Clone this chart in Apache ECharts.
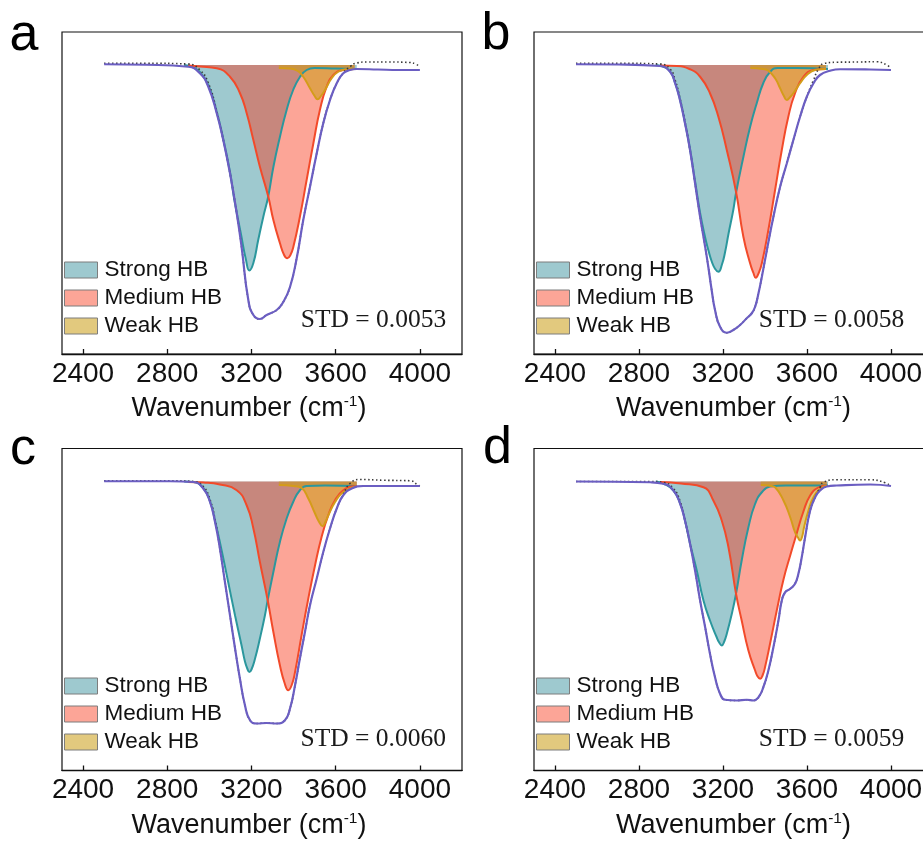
<!DOCTYPE html>
<html>
<head>
<meta charset="utf-8">
<script src="https://cdn.jsdelivr.net/npm/echarts@6/dist/echarts.min.js"></script>
<style>html,body{margin:0;padding:0;background:#fff}#c{width:923px;height:843px}</style>
</head>
<body>
<div id="c"></div>
<script>
// ---------- DATA (wavenumber in cm-1, intensity in arbitrary units) ----------
const xTicks = [2400, 2800, 3200, 3600, 4000];
const panelLabels = ['a', 'b', 'c', 'd'];
const stdLabels = ['STD = 0.0053', 'STD = 0.0058', 'STD = 0.0060', 'STD = 0.0059'];
const componentNames = ['Strong HB', 'Medium HB', 'Weak HB'];

// Panel a
const fitX_a = [2500,2700,2900,2955,2995,3035,3066,3098,3130,3153,3185,3209,3240,3272,3320,3351,3383,3415,3446,3478,3510,3541,3573,3605,3636,3668,3700,3800,3900,4000];
const fitY_a = [0.003,0.001,-0.007,-0.033,-0.087,-0.193,-0.300,-0.433,-0.593,-0.727,-0.940,-1.000,-1.016,-1.000,-0.980,-0.948,-0.888,-0.772,-0.620,-0.487,-0.353,-0.233,-0.140,-0.073,-0.033,-0.020,-0.016,-0.018,-0.020,-0.020];
const expX_a = [2500,2700,2900,2955,2995,3035,3066,3098,3130,3153,3185,3209,3240,3272,3320,3351,3383,3415,3446,3478,3510,3541,3573,3605,3636,3668,3700,3750,3850,3950,3980,4000];
const expY_a = [0.007,0.007,0.004,-0.020,-0.072,-0.184,-0.300,-0.433,-0.593,-0.727,-0.940,-1.000,-1.016,-1.000,-0.980,-0.948,-0.888,-0.772,-0.620,-0.487,-0.353,-0.233,-0.140,-0.073,-0.032,-0.007,0.008,0.012,0.012,0.010,0.004,-0.008];
const strong_a = [[2880,0],[2920,-0.008],[2955,-0.028],[2995,-0.080],[3035,-0.188],[3066,-0.296],[3098,-0.428],[3118,-0.536],[3149,-0.672],[3174,-0.780],[3190,-0.822],[3209,-0.792],[3232,-0.700],[3256,-0.608],[3280,-0.524],[3304,-0.408],[3335,-0.288],[3367,-0.180],[3398,-0.100],[3430,-0.048],[3462,-0.020],[3500,-0.012],[3600,-0.014],[3700,-0.016]];
const medium_a = [[2900,-0.002],[2955,-0.006],[3035,-0.013],[3098,-0.047],[3145,-0.112],[3177,-0.192],[3209,-0.300],[3240,-0.407],[3280,-0.527],[3304,-0.620],[3335,-0.712],[3355,-0.760],[3370,-0.773],[3385,-0.760],[3399,-0.727],[3430,-0.607],[3462,-0.460],[3494,-0.313],[3525,-0.180],[3557,-0.087],[3589,-0.040],[3636,-0.020],[3690,-0.016]];
const weak_a = [[3330,-0.012],[3380,-0.014],[3420,-0.024],[3446,-0.047],[3478,-0.093],[3500,-0.124],[3514,-0.137],[3530,-0.124],[3549,-0.100],[3581,-0.053],[3612,-0.027],[3652,-0.017],[3690,-0.016]];

// Panel b
const fitX_b = [2500,2700,2900,2948,2972,2995,3019,3043,3067,3091,3115,3130,3146,3162,3186,3218,3249,3281,3313,3337,3353,3369,3385,3409,3440,3472,3504,3535,3567,3599,3631,3662,3710,3758,3900,4000];
const fitY_b = [0.003,0.002,-0.004,-0.027,-0.073,-0.140,-0.233,-0.340,-0.473,-0.607,-0.727,-0.807,-0.900,-0.980,-1.047,-1.071,-1.060,-1.040,-1.013,-0.993,-0.967,-0.913,-0.847,-0.740,-0.607,-0.487,-0.393,-0.300,-0.207,-0.127,-0.073,-0.040,-0.023,-0.017,-0.018,-0.020];
const expX_b = [2500,2700,2900,2948,2972,2995,3019,3043,3067,3091,3115,3130,3146,3162,3186,3218,3249,3281,3313,3337,3353,3369,3385,3409,3440,3472,3504,3535,3567,3599,3631,3655,3680,3742,3850,3932,3980,4000];
const expY_b = [0.007,0.007,0.004,-0.016,-0.060,-0.132,-0.228,-0.340,-0.473,-0.607,-0.727,-0.807,-0.900,-0.980,-1.047,-1.071,-1.060,-1.040,-1.013,-0.993,-0.967,-0.913,-0.847,-0.740,-0.607,-0.487,-0.393,-0.300,-0.207,-0.127,-0.060,-0.016,0.006,0.011,0.012,0.013,0.000,-0.013];
const strong_b = [[2880,0],[2920,-0.008],[2948,-0.026],[2972,-0.071],[2995,-0.137],[3019,-0.230],[3043,-0.336],[3067,-0.465],[3091,-0.592],[3115,-0.690],[3130,-0.740],[3146,-0.785],[3162,-0.815],[3178,-0.827],[3195,-0.798],[3210,-0.748],[3226,-0.676],[3249,-0.580],[3262,-0.512],[3297,-0.368],[3329,-0.248],[3361,-0.152],[3392,-0.072],[3424,-0.028],[3460,-0.012],[3550,-0.012],[3700,-0.016]];
const medium_b = [[2900,-0.002],[2980,-0.004],[3043,-0.017],[3091,-0.047],[3138,-0.113],[3178,-0.207],[3218,-0.340],[3262,-0.507],[3297,-0.687],[3329,-0.793],[3345,-0.832],[3356,-0.851],[3370,-0.832],[3385,-0.793],[3416,-0.660],[3448,-0.500],[3480,-0.340],[3511,-0.207],[3543,-0.113],[3583,-0.047],[3631,-0.020],[3690,-0.016]];
const weak_b = [[3330,-0.012],[3390,-0.016],[3416,-0.023],[3448,-0.053],[3472,-0.093],[3490,-0.124],[3504,-0.140],[3520,-0.128],[3535,-0.113],[3567,-0.073],[3599,-0.040],[3639,-0.020],[3690,-0.016]];

// Panel c
const fitX_c = [2500,2813,2924,2971,3003,3027,3050,3074,3098,3122,3145,3169,3193,3225,3272,3320,3359,3383,3407,3430,3454,3478,3510,3541,3573,3605,3636,3676,3731,3850,4000];
const fitY_c = [0.001,0.001,-0.002,-0.028,-0.082,-0.162,-0.268,-0.402,-0.535,-0.668,-0.788,-0.895,-0.955,-0.968,-0.966,-0.968,-0.955,-0.908,-0.815,-0.708,-0.602,-0.495,-0.388,-0.282,-0.188,-0.108,-0.055,-0.028,-0.018,-0.018,-0.018];
const expX_c = [2500,2813,2924,2971,3003,3027,3050,3074,3098,3122,3145,3169,3193,3225,3272,3320,3359,3383,3407,3430,3454,3478,3510,3541,3573,3605,3636,3668,3715,3826,3953,3992,4000];
const expY_c = [0.003,0.003,0.000,-0.020,-0.072,-0.152,-0.268,-0.402,-0.535,-0.668,-0.788,-0.895,-0.955,-0.968,-0.966,-0.968,-0.955,-0.908,-0.815,-0.708,-0.602,-0.495,-0.388,-0.282,-0.188,-0.108,-0.052,-0.008,0.008,0.005,0.003,-0.015,-0.018];
const strong_c = [[2880,0],[2924,-0.002],[2971,-0.026],[3003,-0.079],[3027,-0.157],[3058,-0.275],[3090,-0.405],[3122,-0.536],[3153,-0.656],[3169,-0.720],[3180,-0.748],[3190,-0.762],[3200,-0.752],[3217,-0.708],[3240,-0.628],[3264,-0.535],[3277,-0.475],[3304,-0.362],[3335,-0.242],[3367,-0.148],[3398,-0.082],[3430,-0.035],[3462,-0.018],[3550,-0.016],[3700,-0.018]];
const medium_c = [[2900,-0.002],[2971,-0.004],[3050,-0.012],[3130,-0.035],[3177,-0.095],[3209,-0.188],[3240,-0.322],[3277,-0.475],[3304,-0.602],[3335,-0.735],[3358,-0.808],[3375,-0.835],[3392,-0.812],[3407,-0.762],[3438,-0.615],[3470,-0.468],[3502,-0.335],[3533,-0.222],[3565,-0.135],[3597,-0.075],[3636,-0.035],[3683,-0.019],[3700,-0.018]];
const weak_c = [[3330,-0.014],[3400,-0.018],[3438,-0.026],[3470,-0.068],[3502,-0.128],[3520,-0.160],[3538,-0.179],[3552,-0.160],[3565,-0.135],[3597,-0.082],[3628,-0.048],[3668,-0.028],[3700,-0.019]];

// Panel d
const fitX_d = [2500,2853,2916,2964,2996,3019,3043,3067,3091,3115,3138,3162,3186,3210,3266,3313,3345,3369,3392,3416,3440,3464,3480,3496,3520,3543,3559,3575,3591,3615,3639,3662,3694,3742,3901,4000];
const fitY_d = [0.000,-0.003,-0.009,-0.036,-0.089,-0.156,-0.249,-0.356,-0.476,-0.583,-0.689,-0.783,-0.849,-0.873,-0.876,-0.873,-0.876,-0.863,-0.823,-0.756,-0.663,-0.556,-0.476,-0.443,-0.429,-0.409,-0.369,-0.303,-0.223,-0.116,-0.063,-0.036,-0.020,-0.016,-0.012,-0.018];
const expX_d = [2500,2853,2916,2964,2996,3019,3043,3067,3091,3115,3138,3162,3186,3210,3266,3313,3345,3369,3392,3416,3440,3464,3480,3496,3520,3543,3559,3575,3591,3615,3639,3662,3678,3742,3901,3972,4000];
const expY_d = [0.000,0.000,-0.004,-0.028,-0.080,-0.156,-0.249,-0.356,-0.476,-0.583,-0.689,-0.783,-0.849,-0.873,-0.876,-0.873,-0.876,-0.863,-0.823,-0.756,-0.663,-0.556,-0.476,-0.443,-0.429,-0.409,-0.369,-0.303,-0.223,-0.116,-0.063,-0.024,-0.003,0.007,0.007,-0.005,-0.019];
const strong_d = [[2880,0],[2916,-0.008],[2964,-0.036],[2996,-0.088],[3019,-0.156],[3043,-0.248],[3075,-0.356],[3107,-0.476],[3138,-0.556],[3170,-0.623],[3182,-0.644],[3194,-0.656],[3206,-0.640],[3218,-0.609],[3242,-0.529],[3262,-0.449],[3289,-0.316],[3321,-0.183],[3353,-0.089],[3385,-0.043],[3424,-0.020],[3500,-0.016],[3700,-0.016]];
const medium_d = [[2900,-0.002],[3000,-0.008],[3107,-0.023],[3154,-0.076],[3194,-0.156],[3226,-0.263],[3262,-0.449],[3289,-0.556],[3321,-0.676],[3353,-0.756],[3365,-0.780],[3377,-0.789],[3390,-0.772],[3400,-0.743],[3424,-0.649],[3456,-0.516],[3488,-0.392],[3520,-0.296],[3551,-0.208],[3583,-0.120],[3615,-0.056],[3654,-0.024],[3694,-0.016]];
const weak_d = [[3380,-0.014],[3430,-0.018],[3448,-0.023],[3488,-0.076],[3520,-0.143],[3543,-0.203],[3557,-0.224],[3567,-0.236],[3577,-0.220],[3586,-0.183],[3607,-0.116],[3631,-0.063],[3662,-0.029],[3694,-0.017]];

// ---------- BUILD ----------
const panels = [
  {fitX: fitX_a, fitY: fitY_a, expX: expX_a, expY: expY_a, comps: [strong_a, medium_a, weak_a]},
  {fitX: fitX_b, fitY: fitY_b, expX: expX_b, expY: expY_b, comps: [strong_b, medium_b, weak_b]},
  {fitX: fitX_c, fitY: fitY_c, expX: expX_c, expY: expY_c, comps: [strong_c, medium_c, weak_c]},
  {fitX: fitX_d, fitY: fitY_d, expX: expX_d, expY: expY_d, comps: [strong_d, medium_d, weak_d]}
];

const FONT = '"Liberation Sans", Arial, Helvetica, sans-serif';
const SERIF = '"Liberation Serif", "Times New Roman", Times, serif';
const layout = [
  {grid: {left: 62, top: 32, width: 400, height: 322}, legendLeft: 64, legendTop: 258.5, namePad: 26, label: [9.5, 36], std: [300.8, 320.5]},
  {grid: {left: 534, top: 32, width: 399, height: 322}, legendLeft: 536, legendTop: 258.5, namePad: 0, label: [481.5, 35], std: [758.8, 320.5]},
  {grid: {left: 62, top: 448.5, width: 400, height: 322}, legendLeft: 64, legendTop: 674.5, namePad: 26, label: [10, 449.5], std: [300.5, 739.5]},
  {grid: {left: 534, top: 448.5, width: 399, height: 322}, legendLeft: 536, legendTop: 674.5, namePad: 0, label: [483, 448.5], std: [758.8, 739.5]}
];
const compStyle = [
  {line: '#2b979d', area: 'rgba(61,147,159,0.5)', legend: '#9ec9cf'},
  {line: '#f24a2a', area: 'rgba(249,55,24,0.45)', legend: '#fca597'},
  {line: '#d49c1a', area: 'rgba(202,157,20,0.55)', legend: '#e2c97e'}
];
const SMOOTH = 0.5;

const grid = [], xAxis = [], yAxis = [], series = [], legend = [], graphic = [];
panels.forEach((p, i) => {
  const L = layout[i];
  grid.push(Object.assign({show: true, borderColor: '#111', borderWidth: 1.2, backgroundColor: 'transparent', outerBoundsMode: 'none', containLabel: false}, L.grid));
  xAxis.push({
    type: 'value', gridIndex: i, min: 2300, max: 4200,
    axisLine: {show: true, onZero: false, lineStyle: {color: '#111', width: 1.4}},
    axisTick: {show: true, inside: true, length: 5, customValues: xTicks, lineStyle: {color: '#111', width: 1.3}},
    axisLabel: {show: true, customValues: xTicks, formatter: v => String(v), fontSize: 28, fontFamily: FONT, color: '#111', margin: 6},
    splitLine: {show: false},
    name: 'Wavenumber (cm{sup|-1})', nameLocation: 'middle', nameGap: 40,
    nameTextStyle: {fontSize: 27, fontFamily: FONT, color: '#111', lineHeight: 30, padding: [0, L.namePad, 0, 0],
      rich: {sup: {fontSize: 15.5, fontFamily: FONT, color: '#111', verticalAlign: 'top', lineHeight: 20}}}
  });
  yAxis.push({type: 'value', gridIndex: i, min: -1.156, max: 0.132, show: false, splitLine: {show: false}});
  p.comps.forEach((data, k) => {
    const s = compStyle[k];
    series.push({
      type: 'line', name: componentNames[k], xAxisIndex: i, yAxisIndex: i, data: data,
      showSymbol: false, symbol: 'none', smooth: SMOOTH, silent: true,
      lineStyle: {color: s.line, width: 2}, itemStyle: {color: s.legend},
      areaStyle: {color: s.area, opacity: 1}
    });
  });
  series.push({
    type: 'line', name: 'Experimental', xAxisIndex: i, yAxisIndex: i,
    data: p.expX.map((x, j) => [x, p.expY[j]]),
    showSymbol: false, symbol: 'none', smooth: SMOOTH, silent: true,
    lineStyle: {color: '#3a3a3a', width: 1.6, type: [1.5, 2.5]}
  });
  series.push({
    type: 'line', name: 'Fitted', xAxisIndex: i, yAxisIndex: i,
    data: p.fitX.map((x, j) => [x, p.fitY[j]]),
    showSymbol: false, symbol: 'none', smooth: SMOOTH, silent: true,
    lineStyle: {color: '#6b5ec2', width: 2.2}
  });
  legend.push({
    orient: 'vertical', left: L.legendLeft, top: L.legendTop, padding: 0,
    itemWidth: 33, itemHeight: 16, itemGap: 5, icon: 'rect', selectedMode: false,
    textStyle: {fontSize: 22.5, fontFamily: FONT, color: '#111', padding: [0, 0, 0, 2]},
    data: componentNames.map((n, k) => ({name: n, icon: 'rect',
      itemStyle: {color: compStyle[k].legend, borderColor: '#7d7d7d', borderWidth: 1}}))
  });
  graphic.push({type: 'text', x: L.label[0], y: L.label[1], silent: true,
    style: {text: panelLabels[i], fontSize: 52, fontFamily: FONT, fill: '#000', align: 'left', verticalAlign: 'middle'}});
  graphic.push({type: 'text', x: L.std[0], y: L.std[1], silent: true,
    style: {text: stdLabels[i], fontSize: 25.5, fontFamily: SERIF, fill: '#1a1a1a', align: 'left', verticalAlign: 'middle'}});
});

const chart = echarts.init(document.getElementById('c'), null, {renderer: 'canvas', width: 923, height: 843});
chart.setOption({
  animation: false,
  backgroundColor: '#fff',
  grid, xAxis, yAxis, series, legend, graphic,
  tooltip: {show: false}
});
</script>
</body>
</html>
